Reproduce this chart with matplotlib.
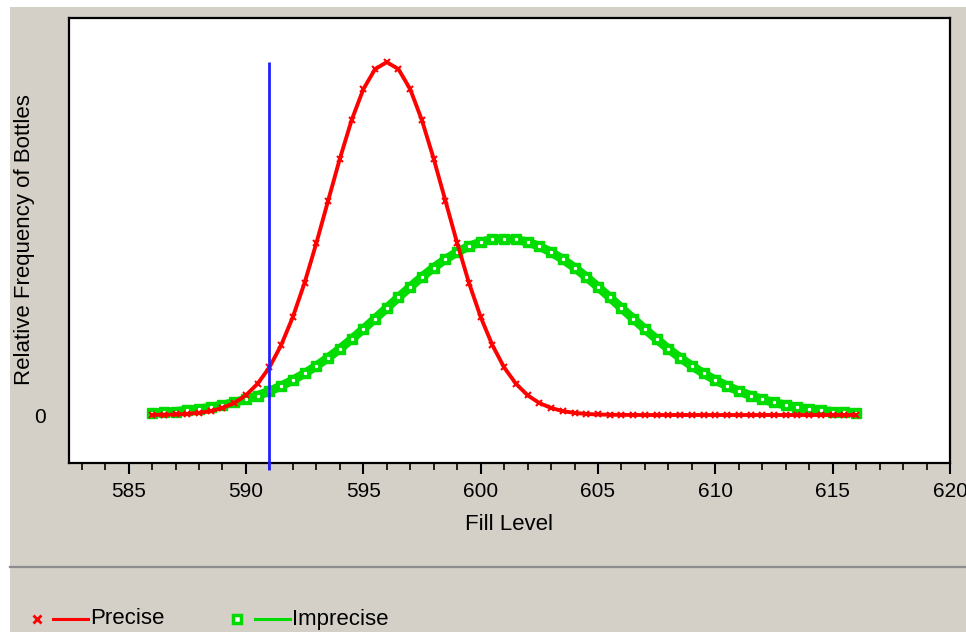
import matplotlib
matplotlib.use('Agg')
import matplotlib.pyplot as plt
from matplotlib.lines import Line2D
from matplotlib.patches import Rectangle

plt.rcParams['font.family'] = ['Liberation Sans', 'DejaVu Sans']

# fill level grid (ml) and relative frequencies
fill_level = [586.0, 586.5, 587.0, 587.5, 588.0, 588.5, 589.0, 589.5, 590.0, 590.5,
              591.0, 591.5, 592.0, 592.5, 593.0, 593.5, 594.0, 594.5, 595.0, 595.5,
              596.0, 596.5, 597.0, 597.5, 598.0, 598.5, 599.0, 599.5, 600.0, 600.5,
              601.0, 601.5, 602.0, 602.5, 603.0, 603.5, 604.0, 604.5, 605.0, 605.5,
              606.0, 606.5, 607.0, 607.5, 608.0, 608.5, 609.0, 609.5, 610.0, 610.5,
              611.0, 611.5, 612.0, 612.5, 613.0, 613.5, 614.0, 614.5, 615.0, 615.5,
              616.0]

precise = [0.0003, 0.0007, 0.0015, 0.0031, 0.006, 0.011, 0.020, 0.034, 0.056, 0.089,
           0.135, 0.198, 0.278, 0.375, 0.487, 0.607, 0.726, 0.835, 0.923, 0.980,
           1.000, 0.980, 0.923, 0.835, 0.726, 0.607, 0.487, 0.375, 0.278, 0.198,
           0.135, 0.089, 0.056, 0.034, 0.020, 0.011, 0.006, 0.0031, 0.0015, 0.0007,
           0.0003, 0.0001, 0.0, 0.0, 0.0, 0.0, 0.0, 0.0, 0.0, 0.0,
           0.0, 0.0, 0.0, 0.0, 0.0, 0.0, 0.0, 0.0, 0.0, 0.0,
           0.0]

imprecise = [0.0056, 0.0075, 0.0099, 0.0131, 0.0170, 0.0220, 0.0281, 0.0355, 0.0444, 0.0551,
             0.0677, 0.0822, 0.0990, 0.1179, 0.1390, 0.1623, 0.1876, 0.2148, 0.2434, 0.2730,
             0.3033, 0.3335, 0.3631, 0.3914, 0.4177, 0.4412, 0.4616, 0.4780, 0.4901, 0.4975,
             0.5000, 0.4975, 0.4901, 0.4780, 0.4616, 0.4412, 0.4177, 0.3914, 0.3631, 0.3335,
             0.3033, 0.2730, 0.2434, 0.2148, 0.1876, 0.1623, 0.1390, 0.1179, 0.0990, 0.0822,
             0.0677, 0.0551, 0.0444, 0.0355, 0.0281, 0.0220, 0.0170, 0.0131, 0.0099, 0.0075,
             0.0056]

spec_limit = 591
peak_height = 1.0

x_major = [585, 590, 595, 600, 605, 610, 615, 620]
x_minor = list(range(583, 621))

panel = '#d4d0c8'
red = '#ff0000'
green = '#00dc00'
blue = '#2020ff'
W, H = 966, 632
fs = 16

fig = plt.figure(figsize=(W / 100, H / 100), dpi=100, facecolor='white')
fig.add_artist(Rectangle((10 / W, 0), 1, (H - 7) / H, transform=fig.transFigure,
                         facecolor=panel, edgecolor='none', zorder=-10))

ax = fig.add_axes([69 / W, (H - 463) / H, 881 / W, 445 / H])
ax.set_facecolor('white')

ax.plot(fill_level, imprecise, color=green, lw=6.5, solid_capstyle='butt', zorder=2)
ax.plot(fill_level, imprecise, ls='none', marker='s', ms=6.5, mfc=green, mec=green, zorder=3)
ax.plot(fill_level, imprecise, ls='none', marker='s', ms=1.3, mfc='white', mec='white', zorder=4)

ax.plot(fill_level, precise, color=red, lw=2.8, zorder=5)
ax.plot(fill_level, precise, ls='none', marker='x', ms=5, mew=1.5, color=red, zorder=6)

ax.vlines(spec_limit, -0.155, peak_height, color=blue, lw=2, zorder=7, clip_on=False)

ax.set_xlim(582.46, 620.0)
ax.set_ylim(-0.136, 1.125)
ax.set_xticks(x_major)
ax.set_xticks(x_minor, minor=True)
ax.set_yticks([0])
ax.set_yticklabels(['0'])
ax.tick_params(axis='x', which='major', length=8, width=1.5, direction='out',
               pad=6, labelsize=15, colors='black')
ax.tick_params(axis='x', which='minor', length=5, width=1.2, direction='out')
ax.tick_params(axis='y', length=0, pad=17, labelsize=15)
for s in ax.spines.values():
    s.set_color('black')
    s.set_linewidth(1.6)

fig.text(509 / W, 1 - 525 / H, 'Fill Level', ha='center', va='center', fontsize=fs)
fig.text(25 / W, 1 - 240 / H, 'Relative Frequency of Bottles', rotation=90,
         ha='center', va='center', fontsize=fs)

# separator above legend
fig.add_artist(Line2D([10 / W, 1], [1 - 566.5 / H] * 2, color='#8c8c8c', lw=1.6,
                      transform=fig.transFigure))

# legend row
ly = 1 - 619 / H
fig.add_artist(Line2D([37 / W], [ly], ls='none', marker='x', ms=6, mew=2, color=red,
                      transform=fig.transFigure))
fig.add_artist(Line2D([53 / W, 88 / W], [ly, ly], color=red, lw=2.2,
                      transform=fig.transFigure))
fig.text(90 / W, ly, 'Precise', ha='left', va='center', fontsize=fs)
fig.add_artist(Line2D([237 / W], [ly], ls='none', marker='s', ms=6, mfc='white', mec=green,
                      mew=2.5, transform=fig.transFigure))
fig.add_artist(Line2D([255 / W, 290 / W], [ly, ly], color=green, lw=2.2,
                      transform=fig.transFigure))
fig.text(292 / W, ly, 'Imprecise', ha='left', va='center', fontsize=fs)

fig.savefig('out.png', dpi=100, facecolor=fig.get_facecolor())
